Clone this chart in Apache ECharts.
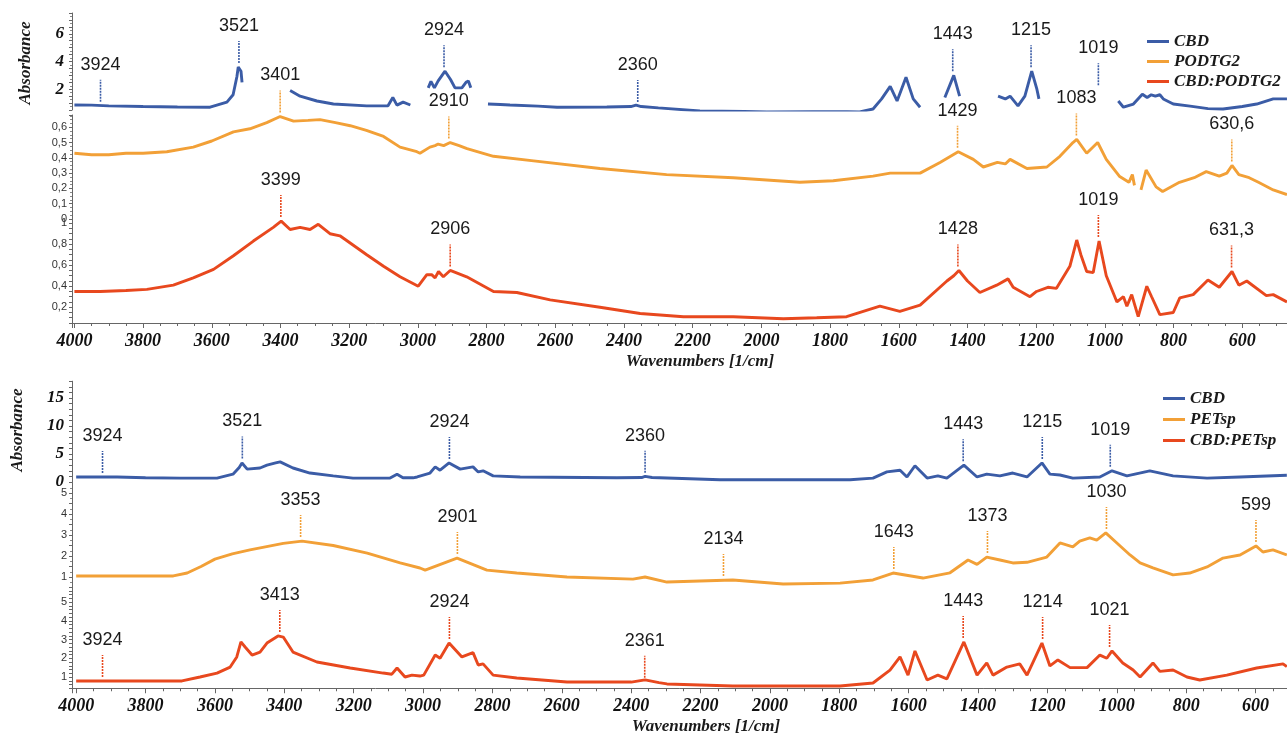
<!DOCTYPE html>
<html><head><meta charset="utf-8">
<script src="https://cdn.jsdelivr.net/npm/echarts@6.0.0/dist/echarts.min.js"></script>
<style>html,body{margin:0;padding:0;background:#fff}#c{width:1287px;height:735px}</style>
</head><body><div id="c"></div>
<script>
// ---------- DATA ----------
var xTicks = [4000,3800,3600,3400,3200,3000,2800,2600,2400,2200,2000,1800,1600,1400,1200,1000,800,600];
var legendTop = ['CBD','PODTG2','CBD:PODTG2'];
var legendBottom = ['CBD','PETsp','CBD:PETsp'];

// top panel spectra [wavenumber, absorbance]
var cbdTop = [[4000,0.86],[3950,0.85],[3900,0.8],[3800,0.75],[3700,0.72],[3605,0.7],[3556,1.07],[3538,1.6],[3527,2.9],[3523,3.6],[3515,3.3],[3512,2.5],[3480,null],
 [3372,1.9],[3343,1.5],[3294,1.15],[3246,0.93],[3149,0.8],[3087,0.8],[3073,1.4],[3061,0.85],[3043,1.07],[3022,0.86],[3010,null],
 [2970,2.1],[2962,2.57],[2952,2.1],[2941,2.6],[2921,3.3],[2905,2.7],[2892,2.1],[2872,2.1],[2860,2.5],[2853,2.6],[2846,2.1],[2820,null],
 [2796,0.93],[2760,0.9],[2732,0.86],[2650,0.78],[2595,0.7],[2450,0.72],[2380,0.75],[2365,0.85],[2350,0.75],[2300,0.65],[2179,0.43],[2050,0.4],[1984,0.36],[1850,0.38],[1751,0.38],[1714,0.36],[1675,0.57],[1650,1.3],[1625,2.2],[1605,1.15],[1579,2.86],[1558,1.3],[1538,0.7],[1520,null],
 [1466,1.4],[1440,3.0],[1423,1.5],[1400,null],
 [1311,1.5],[1290,1.3],[1276,1.5],[1253,0.8],[1233,1.5],[1213,3.3],[1198,2.0],[1192,1.3],[1150,null],
 [961,1.15],[946,0.7],[917,0.93],[891,1.64],[877,1.4],[865,1.6],[853,1.5],[840,1.6],[830,1.3],[801,0.93],[752,0.78],[700,0.6],[656,0.57],[600,0.75],[558,0.93],[510,1.3],[470,1.3]];

var podtg2 = [[4000,0.43],[3950,0.42],[3900,0.42],[3850,0.43],[3800,0.43],[3731,0.44],[3654,0.47],[3600,0.51],[3537,0.57],[3489,0.59],[3440,0.63],[3401,0.67],[3362,0.64],[3320,0.645],[3285,0.65],[3240,0.63],[3197,0.61],[3150,0.58],[3100,0.54],[3052,0.47],[3003,0.44],[2994,0.43],[2965,0.47],[2950,0.48],[2941,0.49],[2925,0.48],[2906,0.5],[2880,0.48],[2857,0.46],[2780,0.41],[2663,0.38],[2470,0.33],[2276,0.29],[2082,0.27],[1888,0.24],[1791,0.25],[1675,0.28],[1625,0.3],[1538,0.3],[1480,0.37],[1427,0.44],[1383,0.39],[1354,0.34],[1313,0.37],[1290,0.36],[1276,0.39],[1227,0.33],[1169,0.34],[1131,0.41],[1093,0.5],[1082,0.52],[1053,0.43],[1021,0.5],[996,0.39],[958,0.28],[930,0.24],[920,0.29],[914,0.22],[906,null],[895,0.19],[880,0.32],[851,0.21],[832,0.18],[783,0.24],[740,0.27],[705,0.31],[667,0.28],[645,0.3],[630,0.35],[610,0.29],[580,0.27],[553,0.24],[510,0.19],[470,0.16]];

var cbdPodtg2 = [[4000,0.35],[3925,0.35],[3850,0.36],[3789,0.37],[3712,0.41],[3654,0.48],[3595,0.56],[3537,0.69],[3479,0.83],[3421,0.96],[3398,1.02],[3372,0.94],[3343,0.96],[3314,0.94],[3290,0.99],[3256,0.9],[3227,0.88],[3149,0.7],[3100,0.59],[3052,0.49],[2999,0.4],[2974,0.51],[2960,0.51],[2950,0.48],[2940,0.54],[2926,0.49],[2906,0.55],[2858,0.49],[2780,0.35],[2712,0.34],[2615,0.27],[2470,0.2],[2353,0.14],[2227,0.11],[2082,0.11],[1936,0.09],[1839,0.1],[1752,0.11],[1655,0.21],[1597,0.16],[1538,0.22],[1460,0.45],[1440,0.5],[1425,0.55],[1400,0.45],[1364,0.34],[1315,0.41],[1282,0.47],[1267,0.39],[1218,0.3],[1199,0.35],[1166,0.39],[1141,0.38],[1102,0.59],[1082,0.84],[1070,0.7],[1053,0.54],[1034,0.53],[1017,0.83],[996,0.5],[965,0.25],[946,0.3],[936,0.21],[922,0.32],[903,0.11],[878,0.4],[864,0.3],[840,0.13],[801,0.15],[782,0.29],[743,0.32],[700,0.46],[667,0.39],[630,0.54],[610,0.41],[587,0.45],[530,0.31],[510,0.32],[470,0.25]];

// bottom panel spectra
var cbdBottom = [[4000,0.9],[3882,0.9],[3800,0.75],[3700,0.7],[3594,0.7],[3548,1.4],[3530,2.6],[3522,3.4],[3507,2.3],[3470,2.5],[3450,3.0],[3425,3.4],[3412,3.6],[3375,2.5],[3326,1.6],[3259,1.1],[3202,0.7],[3095,0.7],[3075,1.4],[3058,0.75],[3029,0.75],[3017,0.9],[2980,1.6],[2965,2.7],[2951,2.1],[2925,3.4],[2893,2.3],[2856,2.7],[2841,1.8],[2827,2.0],[2798,1.1],[2720,0.9],[2441,0.75],[2370,0.8],[2360,1.0],[2340,0.8],[2144,0.4],[1769,0.4],[1703,0.7],[1663,1.8],[1625,2.1],[1605,0.9],[1582,2.9],[1547,0.7],[1516,1.1],[1490,0.7],[1441,3.0],[1403,0.9],[1375,1.4],[1337,1.1],[1300,1.6],[1259,0.9],[1216,3.4],[1193,1.4],[1164,1.25],[1127,0.7],[1049,0.9],[1014,2.0],[971,1.1],[905,2.0],[838,1.1],[740,0.7],[645,0.9],[510,1.2]];

var petsp = [[4000,1.05],[3720,1.05],[3680,1.19],[3640,1.5],[3600,1.85],[3550,2.1],[3499,2.29],[3403,2.6],[3349,2.71],[3259,2.5],[3161,2.14],[3066,1.67],[3009,1.43],[2994,1.33],[2902,1.9],[2816,1.33],[2730,1.19],[2585,1.0],[2395,0.9],[2360,1.0],[2297,0.76],[2107,0.86],[1962,0.67],[1798,0.71],[1703,0.86],[1645,1.19],[1559,0.95],[1481,1.2],[1429,1.81],[1403,1.6],[1375,1.95],[1337,1.81],[1300,1.67],[1259,1.7],[1202,1.95],[1164,2.62],[1127,2.43],[1107,2.71],[1078,2.86],[1058,2.76],[1032,3.1],[1000,2.62],[962,2.05],[933,1.67],[896,1.43],[838,1.1],[790,1.19],[740,1.48],[694,1.9],[645,2.05],[599,2.48],[579,2.19],[550,2.29],[510,2.05]];

var cbdPetsp = [[4000,0.79],[3695,0.79],[3643,1.0],[3594,1.21],[3556,1.53],[3537,2.07],[3525,2.87],[3513,2.6],[3493,2.17],[3470,2.33],[3450,2.81],[3418,3.19],[3403,3.13],[3375,2.33],[3306,1.8],[3210,1.48],[3115,1.21],[3090,1.15],[3075,1.48],[3052,1.0],[3032,1.1],[3009,1.05],[2998,1.1],[2965,2.17],[2951,2.0],[2925,2.81],[2888,2.07],[2856,2.3],[2841,1.64],[2827,1.7],[2798,1.1],[2730,0.95],[2585,0.73],[2400,0.73],[2360,0.85],[2320,0.7],[2297,0.63],[2107,0.52],[1798,0.52],[1703,0.68],[1654,1.37],[1625,2.07],[1602,1.1],[1582,2.39],[1547,0.84],[1516,1.1],[1490,0.9],[1441,2.87],[1403,1.1],[1375,1.75],[1357,1.1],[1317,1.53],[1280,1.7],[1259,1.1],[1216,2.81],[1193,1.59],[1170,1.91],[1135,1.5],[1086,1.5],[1049,2.17],[1029,2.0],[1014,2.39],[983,1.75],[953,1.37],[933,1.0],[896,1.75],[876,1.3],[838,1.37],[798,1.0],[761,0.84],[683,1.1],[597,1.48],[521,1.7],[510,1.55]];

// peak annotations [wavenumber, absorbance at peak] and their labels
var cbdTopPeaks = [[3924,0.8],[3521,3.6],[2924,3.3],[2360,0.78],[1443,3.0],[1215,3.3],[1019,2.0]];
var cbdTopLabels = ['3924','3521','2924','2360','1443','1215','1019'];
var podtg2Peaks = [[3401,0.67],[2910,0.5],[1429,0.44],[1083,0.52],[630.6,0.35]];
var podtg2Labels = ['3401','2910','1429','1083','630,6'];
var cbdPodtg2Peaks = [[3399,1.02],[2906,0.55],[1428,0.55],[1019,0.83],[631.3,0.54]];
var cbdPodtg2Labels = ['3399','2906','1428','1019','631,3'];
var cbdBottomPeaks = [[3924,0.9],[3521,3.5],[2924,3.4],[2360,0.95],[1443,3.0],[1215,3.4],[1019,2.0]];
var cbdBottomLabels = ['3924','3521','2924','2360','1443','1215','1019'];
var petspPeaks = [[3353,2.71],[2901,1.9],[2134,0.86],[1643,1.19],[1373,1.95],[1030,3.1],[599,2.48]];
var petspLabels = ['3353','2901','2134','1643','1373','1030','599'];
var cbdPetspPeaks = [[3924,0.79],[3413,3.19],[2924,2.81],[2361,0.75],[1443,2.87],[1214,2.81],[1021,2.39]];
var cbdPetspLabels = ['3924','3413','2924','2361','1443','1214','1021'];

// ---------- STYLE / LAYOUT ----------
var BLUE = '#3b5ca6', ORANGE = '#f2a037', RED = '#e8481e';
var AXC = '#666';
var SERIF = '"Liberation Serif","Times New Roman",serif';
var SANS = '"Liberation Sans",Arial,sans-serif';

var grids = [
  {left:72, width:1239, top:13, height:97},
  {left:72, width:1239, top:115, height:104},
  {left:72, width:1239, top:219, height:104},
  {left:72, width:1253, top:381.2, height:100.8},
  {left:72, width:1253, top:482.5, height:105},
  {left:72, width:1253, top:587, height:101.25}
];
grids.forEach(function(g){ g.outerBoundsMode = 'none'; g.containLabel = false; });

function near(v, step){ return Math.abs(v/step - Math.round(v/step)) < 1e-6; }
function comma(v){ return String(Math.round(v*100)/100).replace('.', ','); }

var xAxes = grids.map(function(g, i){
  var shown = (i === 2 || i === 5);
  return {
    type:'value', gridIndex:i, inverse:true, min:400, max:(i<3?4007:4012), interval:200,
    show: shown,
    axisLine:{show:true, lineStyle:{color:AXC, width:1}},
    axisTick:{show:true, length:5, lineStyle:{color:AXC}},
    minorTick:{show:true, splitNumber:4, length:3, lineStyle:{color:AXC}},
    splitLine:{show:false},
    axisLabel:{margin:9, color:'#111', fontFamily:SERIF, fontWeight:'bold', fontStyle:'italic', fontSize:18,
      formatter:function(v){ return (near(v,200) && xTicks.indexOf(Math.round(v))>=0) ? String(Math.round(v)) : ''; }}
  };
});

function yAx(i, min, max, interval, labelStep, big, minorSplit){
  return {
    type:'value', gridIndex:i, min:min, max:max, interval:interval,
    axisLine:{show:true, lineStyle:{color:AXC, width:1}},
    axisTick:{show:true, length:3, lineStyle:{color:AXC}},
    minorTick:{show: !!minorSplit, splitNumber: minorSplit || 5, length:2, lineStyle:{color:'#888'}},
    splitLine:{show:false},
    axisLabel: big ?
      {margin:8, color:'#111', fontFamily:SERIF, fontWeight:'bold', fontStyle:'italic', fontSize:17,
       formatter:function(v){ return (near(v,labelStep) && Math.abs(v-max)>1e-6) ? String(Math.round(v)) : ''; }} :
      {margin:5, color:'#333', fontFamily:SANS, fontSize:11,
       formatter:function(v){ return (near(v,labelStep) && Math.abs(v-max)>1e-6) ? comma(v) : ''; }}
  };
}
var yAxes = [
  yAx(0, 0.5, 7.5, 0.5, 2, true, 2),
  yAx(1, 0, 0.68, 0.1, 0.1, false, 4),
  yAx(2, 0.05, 1.04, 0.05, 0.2, false, 0),
  yAx(3, 0, 18, 1, 5, true, 0),
  yAx(4, 0.5, 5.5, 0.5, 1, false, 2),
  yAx(5, 0.4, 5.8, 0.2, 1, false, 0)
];

function lineSeries(name, data, color, i){
  return {type:'line', name:name, xAxisIndex:i, yAxisIndex:i, data:data, showSymbol:false, symbol:'none',
    connectNulls:false, color:color, lineStyle:{color:color, width:2.9}, z:2, silent:true};
}
function peakSeries(peaks, labels, color, i){
  return {type:'custom', xAxisIndex:i, yAxisIndex:i, data:peaks, clip:false, z:4, silent:true,
    encode:{x:0, y:1},
    renderItem:function(params, api){
      var p = api.coord([api.value(0), api.value(1)]);
      return {type:'group', children:[
        {type:'line', shape:{x1:p[0], y1:p[1]-4, x2:p[0], y2:p[1]-26},
          style:{stroke:color, lineWidth:1.6, lineDash:[2,1]}},
        {type:'text', x:p[0], y:p[1]-41,
          style:{text:labels[params.dataIndex], fill:'#1a1a1a', font:'18px ' + SANS, align:'center', verticalAlign:'middle'}}
      ]};
    }};
}

var series = [
  lineSeries('CBD', cbdTop, BLUE, 0),
  lineSeries('PODTG2', podtg2, ORANGE, 1),
  lineSeries('CBD:PODTG2', cbdPodtg2, RED, 2),
  lineSeries('CBD', cbdBottom, BLUE, 3),
  lineSeries('PETsp', petsp, ORANGE, 4),
  lineSeries('CBD:PETsp', cbdPetsp, RED, 5),
  peakSeries(cbdTopPeaks, cbdTopLabels, BLUE, 0),
  peakSeries(podtg2Peaks, podtg2Labels, ORANGE, 1),
  peakSeries(cbdPodtg2Peaks, cbdPodtg2Labels, RED, 2),
  peakSeries(cbdBottomPeaks, cbdBottomLabels, BLUE, 3),
  peakSeries(petspPeaks, petspLabels, ORANGE, 4),
  peakSeries(cbdPetspPeaks, cbdPetspLabels, RED, 5)
];

var legendText = {color:'#1a1a1a', fontFamily:SERIF, fontWeight:'bold', fontStyle:'italic', fontSize:17};
var legends = [
  {data:legendTop, orient:'vertical', left:1147, top:33, icon:'rect', itemWidth:22, itemHeight:3, itemGap:3,
   selectedMode:false, textStyle:legendText, padding:0},
  {data:legendBottom, orient:'vertical', left:1163, top:390, icon:'rect', itemWidth:22, itemHeight:3, itemGap:4,
   selectedMode:false, textStyle:legendText, padding:0}
];

function axisTitle(x, y, text, rot){
  return {type:'text', x:x, y:y, rotation:rot||0, silent:true,
    style:{text:text, fill:'#1a1a1a', font:'italic bold 17px ' + SERIF, align:'center', verticalAlign:'middle'}};
}

var chart = echarts.init(document.getElementById('c'), null, {renderer:'canvas'});
chart.setOption({
  animation:false,
  backgroundColor:'#ffffff',
  grid:grids, xAxis:xAxes, yAxis:yAxes, series:series, legend:legends,
  graphic:[
    axisTitle(700, 362, 'Wavenumbers [1/cm]'),
    axisTitle(706, 727, 'Wavenumbers [1/cm]'),
    axisTitle(26, 63, 'Absorbance', Math.PI/2),
    axisTitle(18, 430, 'Absorbance', Math.PI/2)
  ]
});
</script>
</body></html>
